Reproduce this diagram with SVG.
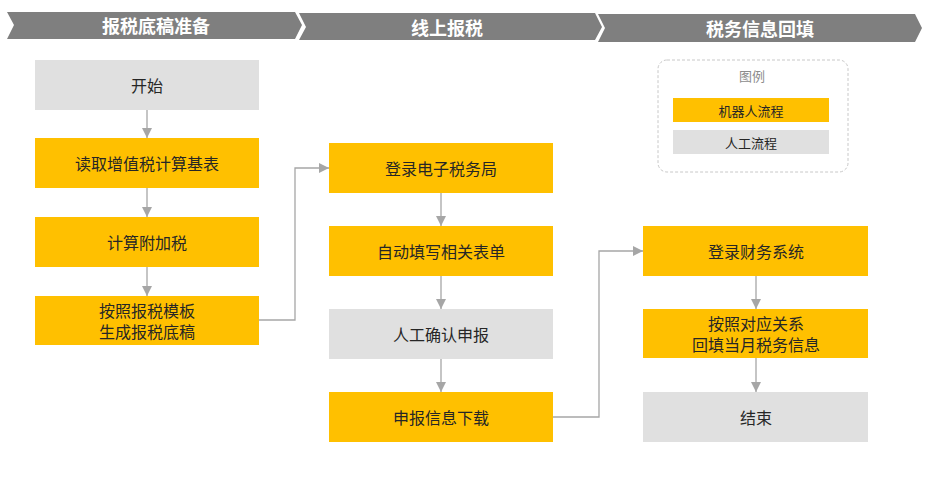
<svg xmlns="http://www.w3.org/2000/svg" width="930" height="500" viewBox="0 0 930 500">
<defs>
<marker id="arr" viewBox="0 0 10 10" refX="10" refY="5" markerWidth="10" markerHeight="10" markerUnits="userSpaceOnUse" orient="auto">
<path d="M0,0 L10,5 L0,10 z" fill="#A6A6A6"/>
</marker>
<style>
.hdr{fill:#7F7F7F}
.ht{font-family:"Noto Sans CJK SC","Liberation Sans",sans-serif;font-size:18px;font-weight:bold;fill:#FFFFFF;text-anchor:middle;dominant-baseline:central}
.y{fill:#FFC000}
.g{fill:#E0E0E0}
.t{font-family:"Noto Sans CJK SC","Liberation Sans",sans-serif;font-size:16px;fill:#262626;text-anchor:middle;dominant-baseline:central}
.lt{font-family:"Noto Sans CJK SC","Liberation Sans",sans-serif;font-size:13px;fill:#262626;text-anchor:middle;dominant-baseline:central}
.c{fill:none;stroke:#A6A6A6;stroke-width:1.3}
</style>
</defs>
<rect width="930" height="500" fill="#FFFFFF"/>
<g id="headers">
<g id="h1"><polygon class="hdr" points="7,12 295,12 302,25 295,39 7,39 14,25"/><text class="ht" x="156" y="25">报税底稿准备</text></g>
<g id="h2"><polygon class="hdr" points="299,13 595,13 602,27 595,40 299,40 306,27"/><text class="ht" x="447" y="27">线上报税</text></g>
<g id="h3"><polygon class="hdr" points="598,14 915,14 922,28 915,42 598,42 605,28"/><text class="ht" x="760" y="28">税务信息回填</text></g>
</g>
<g id="legend">
<rect x="658" y="60" width="190" height="112" rx="9" fill="none" stroke="#C8C8C8" stroke-dasharray="3,2"/>
<text class="lt" x="752" y="75" style="fill:#8C8C8C">图例</text>
<rect class="y" x="673" y="98" width="156" height="24"/><text class="lt" x="751" y="110">机器人流程</text>
<rect class="g" x="673" y="130" width="156" height="24"/><text class="lt" x="751" y="142">人工流程</text>
</g>
<g id="connectors">
<line class="c" x1="147" y1="110" x2="147" y2="138" marker-end="url(#arr)"/>
<line class="c" x1="147" y1="188" x2="147" y2="217" marker-end="url(#arr)"/>
<line class="c" x1="147" y1="267" x2="147" y2="296" marker-end="url(#arr)"/>
<polyline class="c" points="259,320 295,320 295,168 329,168" marker-end="url(#arr)"/>
<line class="c" x1="441" y1="193" x2="441" y2="226" marker-end="url(#arr)"/>
<line class="c" x1="441" y1="276" x2="441" y2="309" marker-end="url(#arr)"/>
<line class="c" x1="441" y1="359" x2="441" y2="392" marker-end="url(#arr)"/>
<polyline class="c" points="553,417 599,417 599,251 643,251" marker-end="url(#arr)"/>
<line class="c" x1="756" y1="276" x2="756" y2="309" marker-end="url(#arr)"/>
<line class="c" x1="756" y1="358" x2="756" y2="392" marker-end="url(#arr)"/>
</g>
<g id="n1"><rect class="g" x="35" y="60" width="224" height="50"/><text class="t" x="147" y="85">开始</text></g>
<g id="n2"><rect class="y" x="35" y="138" width="224" height="50"/><text class="t" x="147" y="163">读取增值税计算基表</text></g>
<g id="n3"><rect class="y" x="35" y="217" width="224" height="50"/><text class="t" x="147" y="242">计算附加税</text></g>
<g id="n4"><rect class="y" x="35" y="296" width="224" height="49"/><text class="t" x="147" y="310"><tspan x="147" y="310">按照报税模板</tspan><tspan x="147" y="331">生成报税底稿</tspan></text></g>
<g id="n5"><rect class="y" x="329" y="143" width="224" height="50"/><text class="t" x="441" y="168">登录电子税务局</text></g>
<g id="n6"><rect class="y" x="329" y="226" width="224" height="50"/><text class="t" x="441" y="251">自动填写相关表单</text></g>
<g id="n7"><rect class="g" x="329" y="309" width="224" height="50"/><text class="t" x="441" y="334">人工确认申报</text></g>
<g id="n8"><rect class="y" x="329" y="392" width="224" height="50"/><text class="t" x="441" y="417">申报信息下载</text></g>
<g id="n9"><rect class="y" x="643" y="226" width="225" height="50"/><text class="t" x="756" y="251">登录财务系统</text></g>
<g id="n10"><rect class="y" x="643" y="309" width="225" height="49"/><text class="t" x="756" y="323"><tspan x="756" y="323">按照对应关系</tspan><tspan x="756" y="344">回填当月税务信息</tspan></text></g>
<g id="n11"><rect class="g" x="643" y="392" width="225" height="50"/><text class="t" x="756" y="417">结束</text></g>
</svg>
